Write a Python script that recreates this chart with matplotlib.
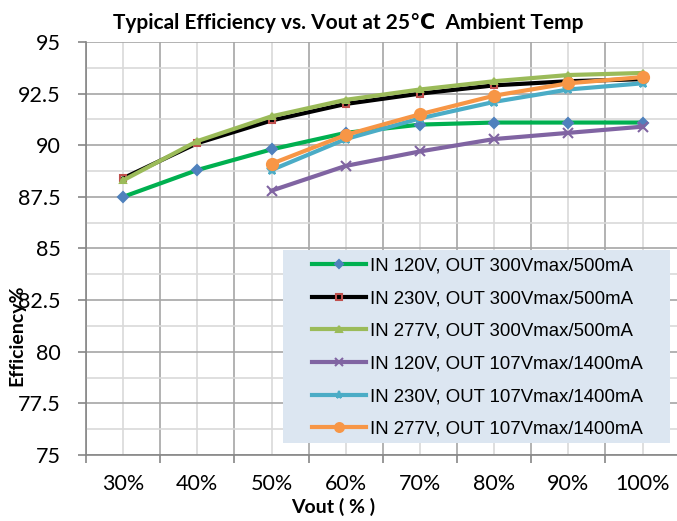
import matplotlib
matplotlib.use("Agg")
import matplotlib.pyplot as plt
from matplotlib.patches import Rectangle
from matplotlib.ticker import MultipleLocator

# Vout load points (category axis)
vout_labels = ['30%', '40%', '50%', '60%', '70%', '80%', '90%', '100%']

# efficiency readings (%), None where the curve has no point
in120_300 = [87.5, 88.8, 89.8, 90.6, 91.0, 91.1, 91.1, 91.1]
in230_300 = [88.4, 90.1, 91.2, 92.0, 92.5, 92.9, 93.1, 93.2]
in277_300 = [88.3, 90.2, 91.4, 92.2, 92.7, 93.1, 93.4, 93.5]
in120_107 = [None, None, 87.8, 89.0, 89.7, 90.3, 90.6, 90.9]
in230_107 = [None, None, 88.8, 90.3, 91.3, 92.1, 92.7, 93.0]
in277_107 = [None, None, 89.1, 90.5, 91.5, 92.4, 93.0, 93.3]

series = [
    ('IN 120V, OUT 300Vmax/500mA', in120_300, '#00b050', 'D', '#4f81bd', 5),
    ('IN 230V, OUT 300Vmax/500mA', in230_300, '#000000', 's', '#c0504d', 5),
    ('IN 277V, OUT 300Vmax/500mA', in277_300, '#9bbb59', '^', '#9bbb59', 5),
    ('IN 120V, OUT 107Vmax/1400mA', in120_107, '#8064a2', 'x', '#8064a2', 7),
    ('IN 230V, OUT 107Vmax/1400mA', in230_107, '#4bacc6', '*', '#4bacc6', 7),
    ('IN 277V, OUT 107Vmax/1400mA', in277_107, '#f79646', 'o', '#f79646', 8),
]

plt.rcParams['font.family'] = ['Lato', 'DejaVu Sans']

fig = plt.figure(figsize=(6.77, 5.21), dpi=100)
ax = fig.add_axes([0.127, 0.1267, 0.877, 0.7927])

x = list(range(len(vout_labels)))
for name, vals, col, mk, mcol, ms in series:
    xs = [i for i, v in zip(x, vals) if v is not None]
    ys = [v for v in vals if v is not None]
    ax.plot(xs, ys, color=col, lw=3, marker=mk, markersize=ms,
            markerfacecolor=mcol if mk != 's' else 'none',
            markeredgecolor=mcol, markeredgewidth=1.5, label=name)

ax.set_xlim(-0.5, 7.5)
ax.set_ylim(75, 95)

# category labels at centres, tick marks at the boundaries
ax.set_xticks(x)
ax.set_xticklabels(vout_labels)
ax.set_xticks([i - 0.5 for i in range(len(vout_labels) + 1)], minor=True)
ax.tick_params(axis='x', which='major', length=0, labelsize=15.5, pad=14)
ax.tick_params(axis='x', which='minor', length=6, width=1.2, color='#868686')

ax.yaxis.set_major_locator(MultipleLocator(2.5))
ax.yaxis.set_minor_locator(MultipleLocator(1.25))
ax.yaxis.set_major_formatter(plt.FuncFormatter(lambda v, p: f'{v:g}'))
ax.tick_params(axis='y', which='major', length=6, width=1.2, color='#868686',
               labelsize=15.5, pad=12)
ax.tick_params(axis='y', which='minor', length=0)

ax.grid(True, which='minor', axis='x', color='#a6a6a6', lw=1.2)
ax.grid(True, which='major', axis='x', color='#d9d9d9', lw=1.2)
ax.grid(True, which='major', axis='y', color='#a6a6a6', lw=1.2)
ax.grid(True, which='minor', axis='y', color='#d9d9d9', lw=1.2)
ax.set_axisbelow(True)

for s in ['top', 'right']:
    ax.spines[s].set_visible(False)
for s in ['left', 'bottom']:
    ax.spines[s].set_color('#868686')
    ax.spines[s].set_linewidth(1.2)

ax.set_title('Typical Efficiency vs. Vout at 25\u2103  Ambient Temp',
             fontsize=15, fontweight='bold', pad=9, x=0.441)
ax.set_xlabel('Vout ( % )', fontsize=14, fontweight='bold', va='center')
ax.xaxis.set_label_coords(0.416, -0.126)
fig.text(0.025, 0.357, 'Efficiency%', rotation=90, fontsize=14,
         fontweight='bold', ha='center', va='center')

# legend box
ax.add_patch(Rectangle((0.332, 0.029), 0.651, 0.467, transform=ax.transAxes,
                       facecolor='#dce6f1', edgecolor='none', zorder=4))
leg = ax.legend(loc='upper left', bbox_to_anchor=(0.380, 0.478),
                prop={'family': 'Liberation Sans', 'size': 13.4},
                frameon=False, handlelength=2.9, handletextpad=0.25,
                labelspacing=0.84, borderpad=0, borderaxespad=0,
                markerscale=0.8)
leg.set_zorder(5)

fig.savefig('out.png', dpi=100)
